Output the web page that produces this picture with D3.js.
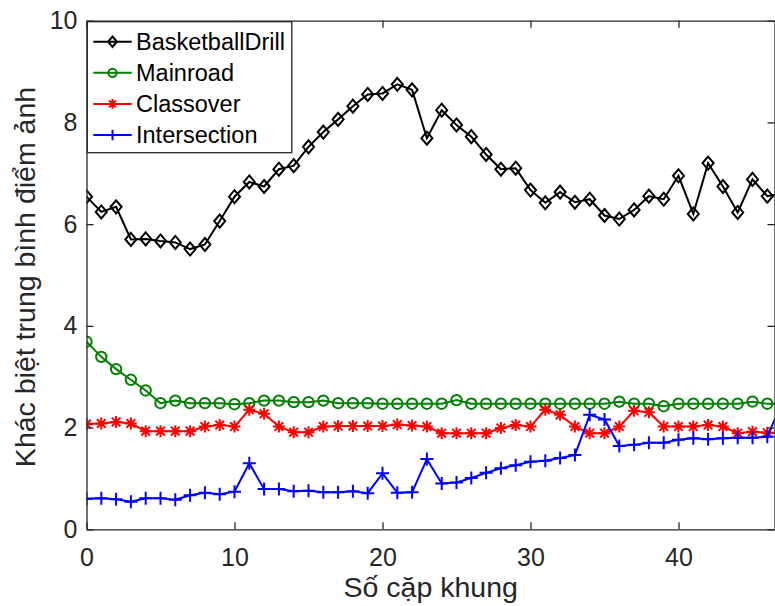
<!DOCTYPE html>
<html>
<head>
<meta charset="utf-8">
<script src="https://cdn.jsdelivr.net/npm/d3@7"></script>
<style>
  body { margin: 0; background: #fff; }
  svg text { font-family: "Liberation Sans", Arial, Helvetica, sans-serif; fill: #262626; }
</style>
</head>
<body>
<div class="chart"></div>
<script>
// frame index 0..47 (the last one is cut off at the right edge)
var frames = d3.range(0, 48);

var seriesNames = ["BasketballDrill", "Mainroad", "Classover", "Intersection"];
var seriesColors = ["#000000", "#008000", "#ff0000", "#0000ff"];
var seriesMarkers = ["diamond", "circle", "asterisk", "plus"];

var basketballDrill = [6.54, 6.24, 6.34, 5.70, 5.71, 5.67, 5.64, 5.51, 5.60, 6.06,
  6.54, 6.83, 6.74, 7.08, 7.15, 7.52, 7.81, 8.06, 8.32, 8.55,
  8.57, 8.75, 8.64, 7.69, 8.24, 7.95, 7.72, 7.37, 7.08, 7.10,
  6.67, 6.42, 6.63, 6.43, 6.49, 6.17, 6.10, 6.28, 6.55, 6.49,
  6.95, 6.20, 7.20, 6.74, 6.23, 6.88, 6.55, 6.60];
var mainroad = [3.69, 3.39, 3.15, 2.94, 2.73, 2.48, 2.53, 2.48, 2.48, 2.48,
  2.46, 2.48, 2.53, 2.53, 2.50, 2.50, 2.53, 2.48, 2.48, 2.48,
  2.47, 2.47, 2.47, 2.47, 2.47, 2.54, 2.47, 2.47, 2.47, 2.47,
  2.47, 2.47, 2.47, 2.47, 2.47, 2.47, 2.51, 2.47, 2.47, 2.42,
  2.47, 2.47, 2.47, 2.47, 2.47, 2.51, 2.47, 2.47];
var classover = [2.07, 2.08, 2.11, 2.08, 1.93, 1.93, 1.93, 1.93, 2.02, 2.05,
  2.02, 2.35, 2.27, 2.02, 1.91, 1.91, 2.02, 2.03, 2.03, 2.03,
  2.03, 2.06, 2.04, 2.02, 1.89, 1.89, 1.89, 1.89, 1.99, 2.05,
  2.02, 2.35, 2.25, 2.02, 1.89, 1.89, 2.02, 2.33, 2.30, 2.02,
  2.02, 2.02, 2.05, 2.02, 1.89, 1.92, 1.90, 1.90];
var intersection = [0.60, 0.61, 0.59, 0.54, 0.61, 0.61, 0.58, 0.67, 0.72, 0.69,
  0.74, 1.30, 0.79, 0.79, 0.75, 0.76, 0.73, 0.73, 0.75, 0.71,
  1.10, 0.72, 0.73, 1.38, 0.90, 0.92, 1.01, 1.11, 1.20, 1.26,
  1.33, 1.35, 1.40, 1.46, 2.25, 2.16, 1.64, 1.66, 1.70, 1.70,
  1.76, 1.79, 1.77, 1.79, 1.80, 1.80, 1.82, 2.50];

var xTicks = [0, 10, 20, 30, 40];
var yTicks = [0, 2, 4, 6, 8, 10];
var xLabel = "Số cặp khung";
var yLabel = "Khác biệt trung bình điểm ảnh";

var allSeries = [basketballDrill, mainroad, classover, intersection];

var W = 775, H = 606;
var pLeft = 86.5, pRight = 775, pTop = 20.7, pBottom = 529.3;

var svg = d3.select(".chart")
  .append("svg")
  .attr("width", W)
  .attr("height", H);

var x = d3.scaleLinear().domain([0, 46.52]).range([pLeft, pRight]);
var y = d3.scaleLinear().domain([0, 10]).range([pBottom, pTop]);

//marker shapes, centred on 0,0
function markerPath(type, r) {
  if (type == "diamond") {
    var rw = r * 0.85;
    return "M0," + (-r) + "L" + rw + ",0L0," + r + "L" + (-rw) + ",0Z";
  }
  if (type == "circle") {
    return "M" + r + ",0A" + r + "," + r + " 0 1,1 " + (-r) + ",0A" + r + "," + r + " 0 1,1 " + r + ",0Z";
  }
  if (type == "plus") {
    return "M" + (-r) + ",0H" + r + "M0," + (-r) + "V" + r;
  }
  // asterisk
  var d = r * 0.72;
  return "M" + (-r) + ",0H" + r + "M0," + (-r) + "V" + r +
    "M" + (-d) + "," + (-d) + "L" + d + "," + d + "M" + (-d) + "," + d + "L" + d + "," + (-d);
}
var markerSize = { diamond: 6.5, circle: 5.2, asterisk: 6, plus: 6.5 };

svg.append("clipPath").attr("id", "plotClip")
  .append("rect")
  .attr("x", pLeft).attr("y", pTop)
  .attr("width", pRight - pLeft).attr("height", pBottom - pTop);

var plot = svg.append("g").attr("clip-path", "url(#plotClip)");

var line = d3.line()
  .x(function(d, i) { return x(frames[i]); })
  .y(function(d) { return y(d); });

allSeries.forEach(function(vals, s) {
  var g = plot.append("g");
  g.append("path")
    .datum(vals)
    .attr("d", line)
    .attr("fill", "none")
    .attr("stroke", seriesColors[s])
    .attr("stroke-width", 2);
  g.selectAll("path.mk")
    .data(vals)
    .enter()
    .append("path")
    .attr("class", "mk")
    .attr("transform", function(d, i) { return "translate(" + x(frames[i]) + "," + y(d) + ")"; })
    .attr("d", markerPath(seriesMarkers[s], markerSize[seriesMarkers[s]]))
    .attr("fill", "none")
    .attr("stroke", seriesColors[s])
    .attr("stroke-width", 2);
});

// axes, matlab style: ticks pointing inward, box on
var axisColor = "#262626";
var gx = svg.append("g").attr("transform", "translate(0," + pBottom + ")")
  .call(d3.axisBottom(x).tickValues(xTicks).tickSizeInner(-7).tickSizeOuter(0).tickPadding(19));
var gy = svg.append("g").attr("transform", "translate(" + pLeft + ",0)")
  .call(d3.axisLeft(y).tickValues(yTicks).tickSizeInner(-7).tickSizeOuter(0).tickPadding(9));
var gt = svg.append("g").attr("transform", "translate(0," + pTop + ")")
  .call(d3.axisTop(x).tickValues(xTicks).tickSizeInner(-7).tickSizeOuter(0).tickFormat(""));
var gr = svg.append("g").attr("transform", "translate(" + (pRight - 0.5) + ",0)")
  .call(d3.axisRight(y).tickValues(yTicks).tickSizeInner(-7).tickSizeOuter(0).tickFormat(""));

[gx, gy, gt, gr].forEach(function(g) {
  g.select(".domain").attr("stroke", axisColor).attr("stroke-width", 1.3);
  g.selectAll(".tick line").attr("stroke", axisColor).attr("stroke-width", 1.3);
  g.selectAll(".tick text")
    .attr("fill", axisColor)
    .style("font-size", "25px")
    .style("font-family", "'Liberation Sans', Arial, sans-serif");
});

svg.append("text")
  .attr("x", (pLeft + pRight) / 2)
  .attr("y", 597)
  .attr("text-anchor", "middle")
  .style("font-size", "28.5px")
  .text(xLabel);

svg.append("text")
  .attr("transform", "translate(35," + ((pTop + pBottom) / 2 + 2) + ") rotate(-90)")
  .attr("text-anchor", "middle")
  .style("font-size", "28.5px")
  .text(yLabel);

// legend
var legend = svg.append("g");
legend.append("rect")
  .attr("x", 87.3).attr("y", 21.7)
  .attr("width", 204.5).attr("height", 131)
  .attr("fill", "#fff")
  .attr("stroke", axisColor)
  .attr("stroke-width", 1.3);

var rows = legend.selectAll("g.row")
  .data(seriesNames)
  .enter()
  .append("g")
  .attr("class", "row")
  .attr("transform", function(d, i) { return "translate(0," + (41.7 + i * 31.1) + ")"; });

rows.append("line")
  .attr("x1", 93.3).attr("x2", 131.7)
  .attr("y1", 0).attr("y2", 0)
  .attr("stroke", function(d, i) { return seriesColors[i]; })
  .attr("stroke-width", 2);
rows.append("path")
  .attr("transform", "translate(112.5,0)")
  .attr("d", function(d, i) { return markerPath(seriesMarkers[i], markerSize[seriesMarkers[i]] * 0.8); })
  .attr("fill", "none")
  .attr("stroke", function(d, i) { return seriesColors[i]; })
  .attr("stroke-width", 2);
rows.append("text")
  .attr("x", 136)
  .attr("y", 0)
  .attr("dy", "0.36em")
  .style("font-size", "23.5px")
  .style("fill", "#000")
  .text(function(d) { return d; });
</script>
</body>
</html>
